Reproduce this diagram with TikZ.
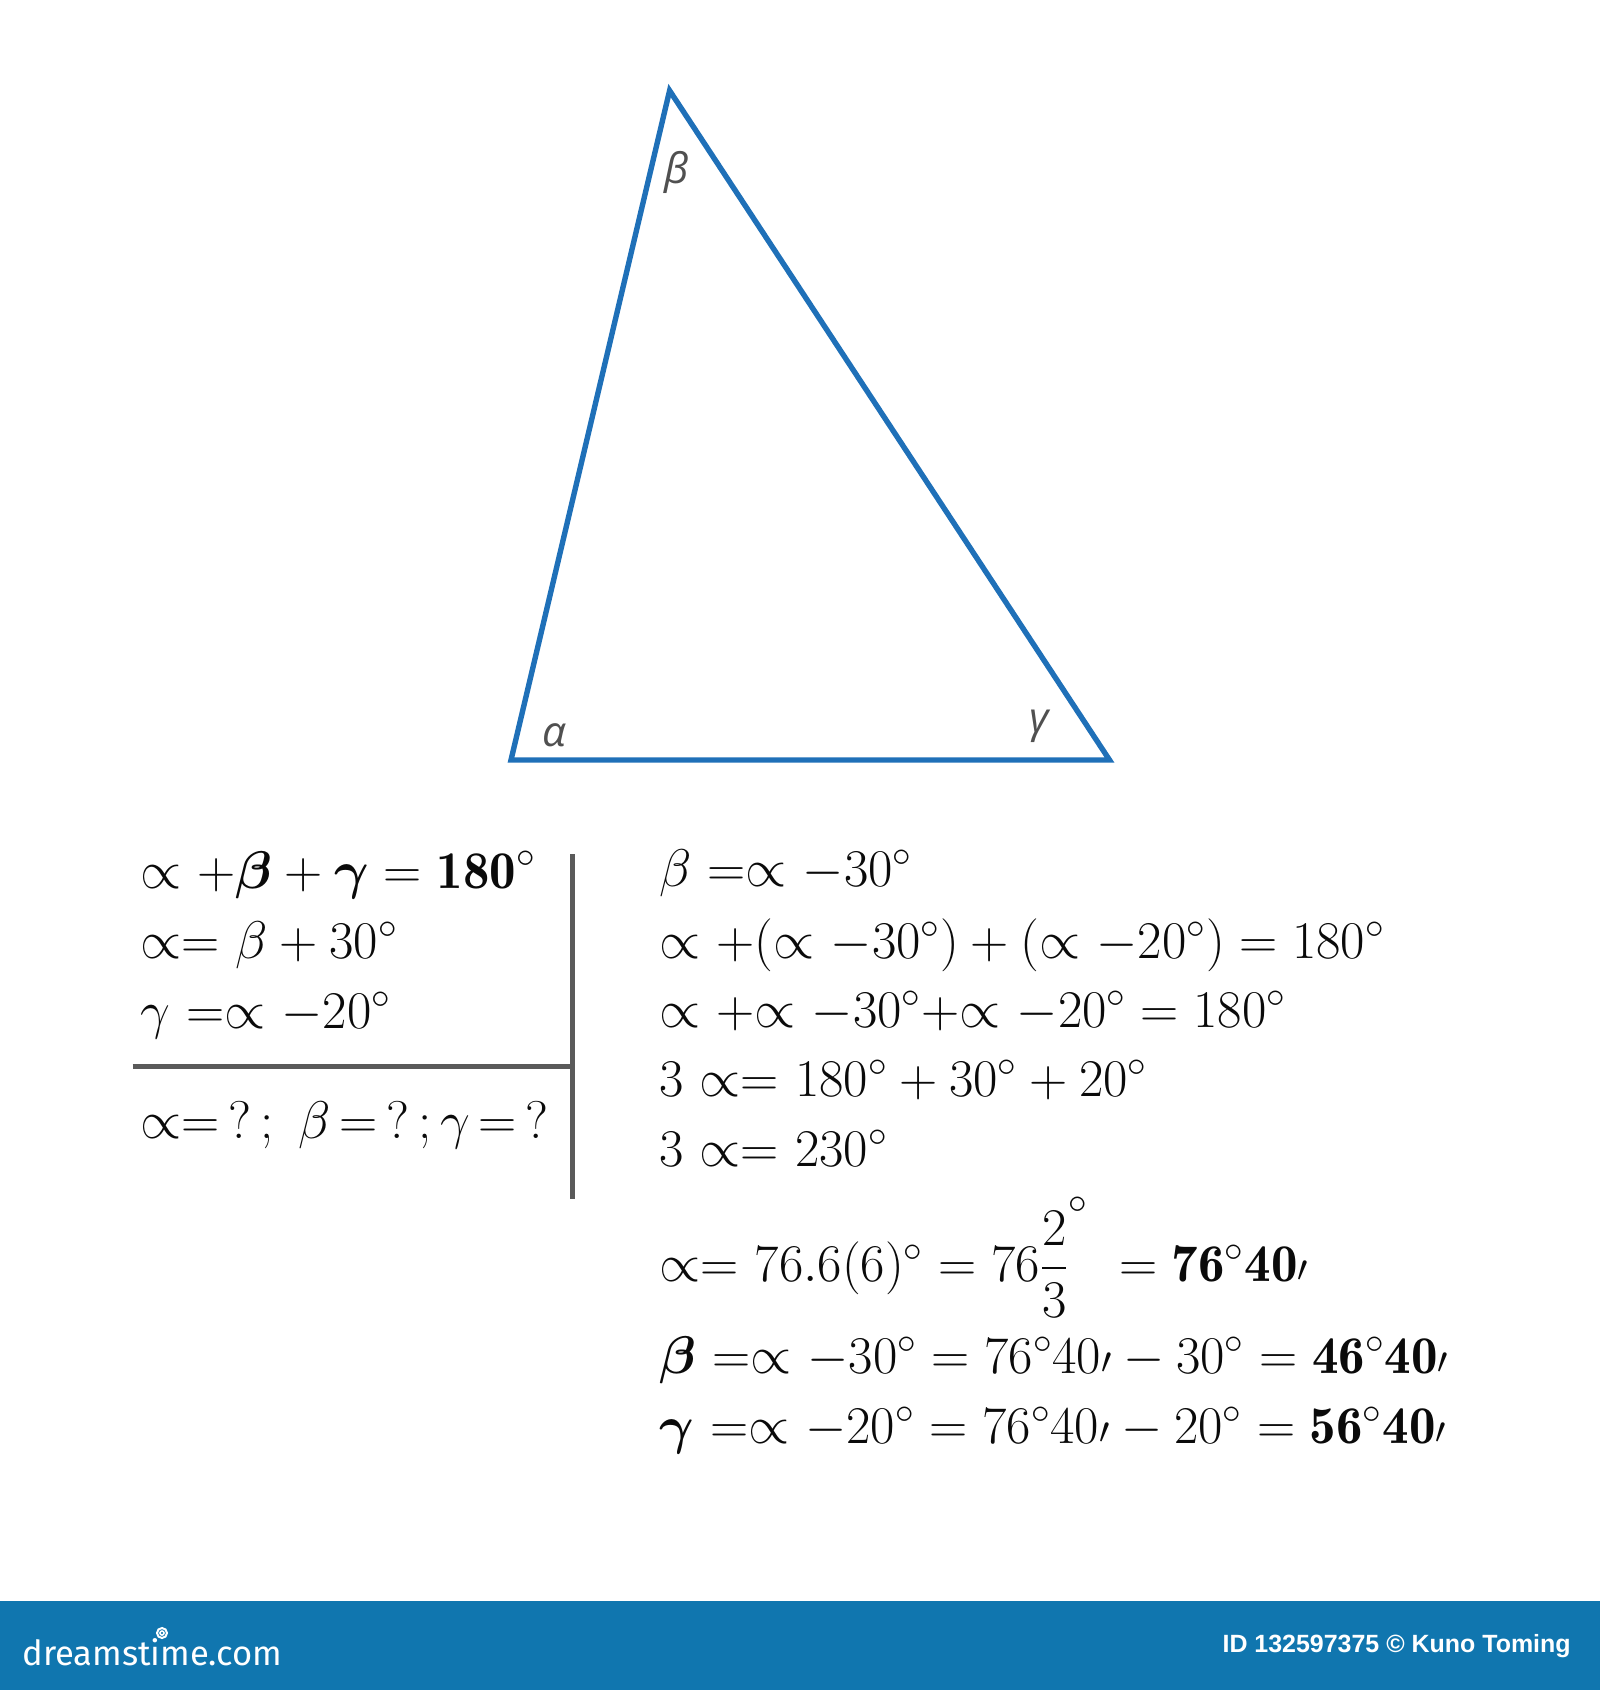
\RequirePackage{fix-cm}
\documentclass[tikz,border=0pt]{standalone}
\usepackage{amsmath,bm}
\usepackage{fontspec}
\newfontfamily\lblfont{Open Sans}
\newfontfamily\logofont{Fira Sans}
\newfontfamily\idfont{Liberation Sans}
\definecolor{triblue}{RGB}{31,112,184}
\definecolor{barblue}{RGB}{16,118,175}
\definecolor{rulegray}{RGB}{90,90,90}
\definecolor{lblgray}{RGB}{80,80,80}
\definecolor{mathblack}{RGB}{10,10,10}
\newcommand{\pr}{\mathord{\propto}}
\newcommand{\mnt}{{\scriptstyle\prime}}
\tikzset{
  tri/.style={draw=triblue, line width=2.7pt, line join=miter},
  rulestyle/.style={draw=rulegray, line width=2.2pt},
  lbl/.style={text=lblgray, font=\lblfont\itshape\fontsize{21}{24}\selectfont, inner sep=0pt},
  eq/.style={anchor=base west, inner sep=0pt, text=mathblack, font=\fontsize{26.5}{32}\selectfont},
  foot/.style={text=white, inner sep=0pt}
}
\begin{document}
\begin{tikzpicture}[x=0.5pt,y=-0.5pt]
\useasboundingbox (0,0) rectangle (1600,1690);
% triangle
\coordinate (A) at (511,760);
\coordinate (B) at (669.6,90.6);
\coordinate (C) at (1109.5,760);
\draw[tri] (A) -- (B) -- (C) -- cycle;
\node[lbl] (lb) at (677,172) {β};
\node[lbl] (la) at (554,735) {α};
\node[lbl] (lc) at (1039,726) {γ};
% rules
\coordinate (vt) at (572.5,854);
\coordinate (vb) at (572.5,1199);
\coordinate (hl) at (132.6,1066.3);
\coordinate (hr) at (572.5,1066.3);
\draw[rulestyle] (vt) -- (vb);
\draw[rulestyle] (hl) -- (hr);
% left block
\node[eq] (l1) at (140,888) {$\pr\ {+}\boldsymbol{\beta} + \boldsymbol{\gamma} = \mathbf{180}^{\circ}$};
\node[eq] (l2) at (140,958) {$\pr{=}\ \beta + 30^{\circ}$};
\node[eq] (l3) at (140,1028) {$\gamma\ {=}\pr\ {-}20^{\circ}$};
\node[eq] (l4) at (140,1138) {$\pr{=}\,?\,;\ \beta\,{=}\,?\,;\gamma\,{=}\,?$};
% right block
\node[eq] (r1) at (659,886) {$\beta\ {=}\pr\ {-}30^{\circ}$};
\node[eq] (r2) at (659,958) {$\pr\ {+}(\pr\ {-}30^{\circ}) + (\pr\ {-}20^{\circ}) = 180^{\circ}$};
\node[eq] (r3) at (659,1027) {$\pr\ {+}\pr\ {-}30^{\circ}{+}\pr\ {-}20^{\circ} = 180^{\circ}$};
\node[eq] (r4) at (659,1096) {$3\ \pr{=}\ 180^{\circ} + 30^{\circ} + 20^{\circ}$};
\node[eq] (r5) at (659,1166) {$3\ \pr{=}\ 230^{\circ}$};
\node[eq] (r6) at (659,1281) {$\pr{=}\ 76.6(6)^{\circ} = 76\dfrac{2}{3}^{\raisebox{6pt}{$\scriptstyle\circ$}}\ = \mathbf{76^{\circ}40}\mnt$};
\node[eq] (r7) at (659,1373) {$\boldsymbol{\beta}\ {=}\pr\ {-}30^{\circ} = 76^{\circ}40\mnt - 30^{\circ} = \mathbf{46^{\circ}40}\mnt$};
\node[eq] (r8) at (659,1443) {$\boldsymbol{\gamma}\ {=}\pr\ {-}20^{\circ} = 76^{\circ}40\mnt - 20^{\circ} = \mathbf{56^{\circ}40}\mnt$};
% footer
\fill[barblue] (0,1601) rectangle (1600,1690);
\node[foot, anchor=west] (logo) at (22,1652) {\resizebox{130pt}{!}{\logofont dreamstime.com}};
\node[foot, anchor=east] (idtxt) at (1571,1646) {\resizebox{174pt}{!}{\idfont\bfseries ID 132597375 © Kuno Toming}};
\draw[white, line width=1pt] (162,1633) circle (5);
\draw[white, line width=0.8pt] (162,1633) circle (2);
\end{tikzpicture}
\end{document}
